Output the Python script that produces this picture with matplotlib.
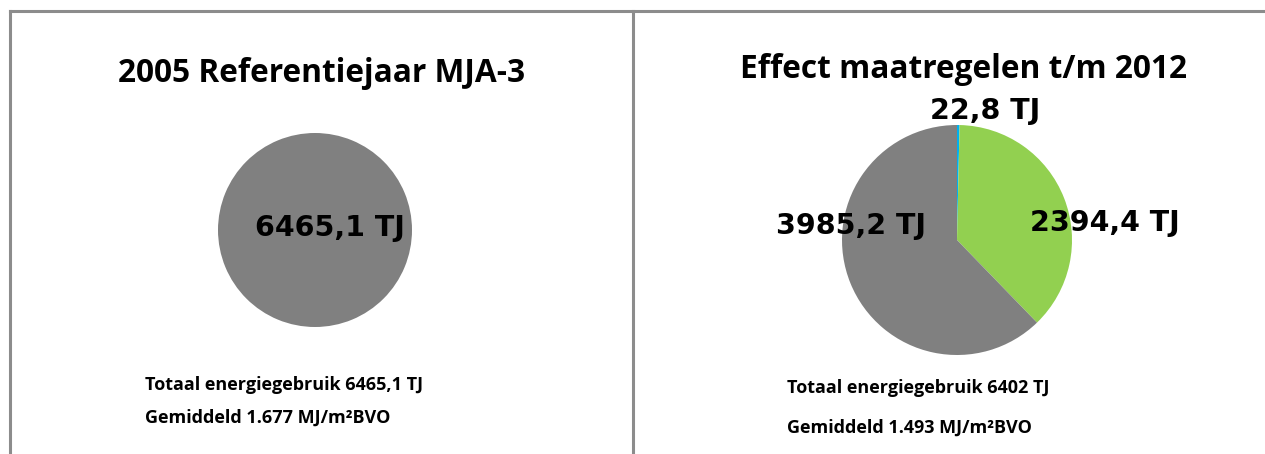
import matplotlib
matplotlib.use('Agg')
import matplotlib.pyplot as plt
from matplotlib.lines import Line2D

W, H = 1265, 454

titels = ['2005 Referentiejaar MJA-3', 'Effect maatregelen t/m 2012']
waarden_2005 = [6465.1]
kleuren_2005 = ['#808080']
waarden_2012 = [22.8, 2394.4, 3985.2]
kleuren_2012 = ['#00B0F0', '#92D050', '#808080']
onderschrift_2005 = ['Totaal energiegebruik 6465,1 TJ', 'Gemiddeld 1.677 MJ/m\u00b2BVO']
onderschrift_2012 = ['Totaal energiegebruik 6402 TJ', 'Gemiddeld 1.493 MJ/m\u00b2BVO']


def fmt(v):
    return f'{v:.1f}'.replace('.', ',') + ' TJ'


def fx(x):
    return x / W


def fy(y):
    return 1 - y / H


fig = plt.figure(figsize=(W / 100, H / 100), dpi=100)

# kaders
lijn = dict(color='#8c8c8c', linewidth=2.2)
fig.add_artist(Line2D([fx(10), fx(1265)], [fy(11), fy(11)], **lijn))
fig.add_artist(Line2D([fx(10), fx(10)], [fy(11), fy(454)], **lijn))
fig.add_artist(Line2D([fx(633), fx(633)], [fy(11), fy(454)], **lijn))

titel_font = dict(family=['Open Sans', 'DejaVu Sans'], fontweight='bold', fontsize=22.8)
fig.text(fx(322), fy(73), titels[0], ha='center', va='center', **titel_font)
fig.text(fx(963), fy(69), titels[1], ha='center', va='center', **titel_font)


def taart(cx, cy, r, waarden, kleuren):
    ax = fig.add_axes([fx(cx - r), fy(cy + r), 2 * r / W, 2 * r / H])
    ax.pie(waarden, colors=kleuren, startangle=90, counterclock=False,
           wedgeprops=dict(linewidth=0))
    ax.set_xlim(-1, 1)
    ax.set_ylim(-1, 1)
    ax.axis('off')
    return ax


taart(315, 230, 97, waarden_2005, kleuren_2005)
taart(957, 240, 115, waarden_2012, kleuren_2012)

label_font = dict(family='DejaVu Sans', fontweight='bold', fontsize=20.5)
fig.text(fx(330), fy(228), fmt(waarden_2005[0]), ha='center', va='center', **label_font)
fig.text(fx(985), fy(111), fmt(waarden_2012[0]), ha='center', va='center', **label_font)
fig.text(fx(1105), fy(223), fmt(waarden_2012[1]), ha='center', va='center', **label_font)
fig.text(fx(851), fy(226), fmt(waarden_2012[2]), ha='center', va='center', **label_font)

onder_font = dict(family=['Open Sans', 'DejaVu Sans'], fontweight='bold', fontsize=13)
fig.text(fx(145), fy(385), onderschrift_2005[0], ha='left', va='center', **onder_font)
fig.text(fx(145), fy(418), onderschrift_2005[1], ha='left', va='center', **onder_font)
fig.text(fx(787), fy(388), onderschrift_2012[0], ha='left', va='center', **onder_font)
fig.text(fx(787), fy(428), onderschrift_2012[1], ha='left', va='center', **onder_font)

fig.savefig('out.png', dpi=100)
